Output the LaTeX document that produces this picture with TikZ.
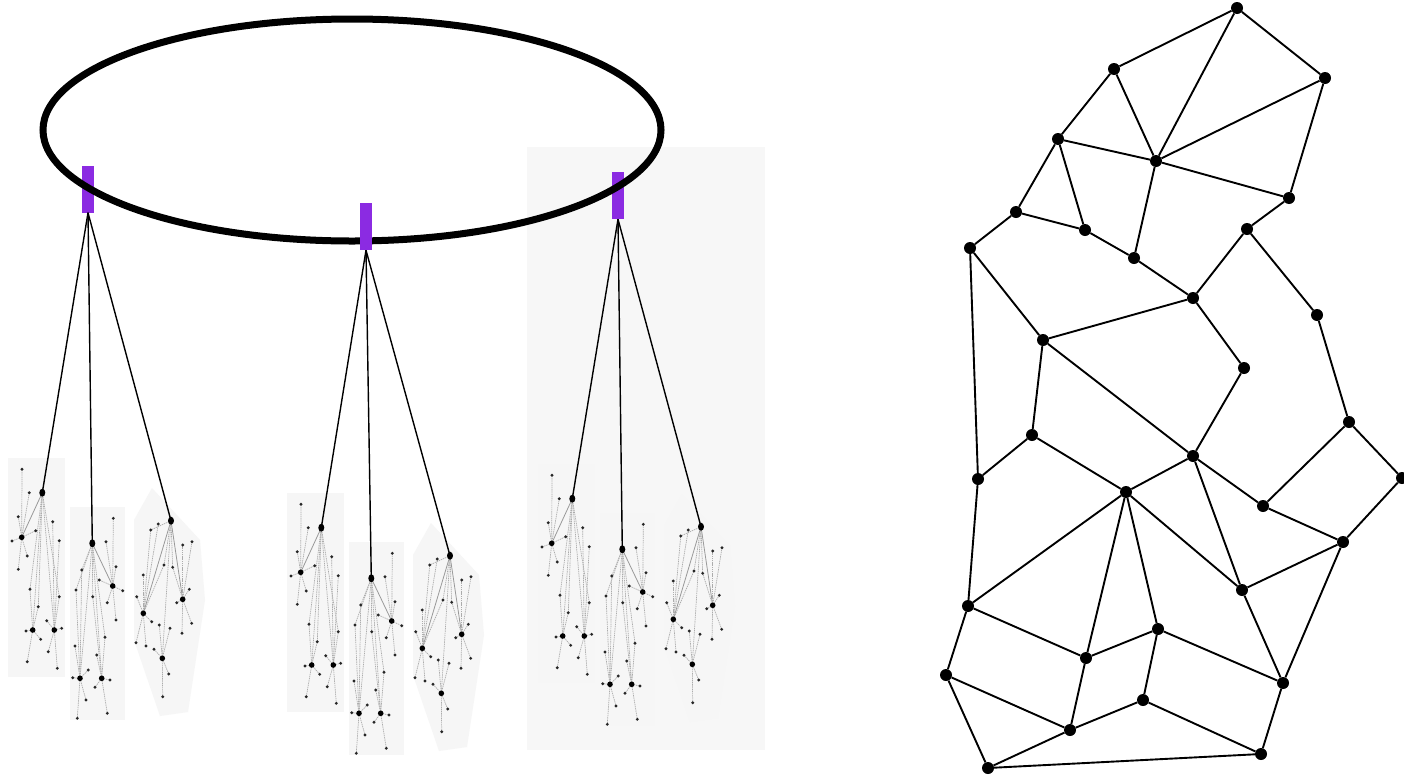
\documentclass[tikz,border=0pt]{standalone}
\usetikzlibrary{shapes.geometric}
\definecolor{ringviolet}{HTML}{8B2BE2}
\definecolor{panelgray}{HTML}{F6F6F6}
\definecolor{bigpanel}{HTML}{F7F7F7}
\tikzset{
  spoke/.style={draw=gray!65, line width=0.7pt, dash pattern=on 1.4pt off 0.8pt},
  stem/.style={draw=gray!80, line width=0.8pt},
  leaf/.style={fill=black!85},
  hang/.style={draw=black, line width=1.4pt},
  prect/.style={rectangle, fill=ringviolet, draw=none, minimum width=12pt, minimum height=47pt, inner sep=0pt},
  gnode/.style={circle, fill=black, draw=none, inner sep=0pt, minimum size=12pt},
  gedge/.style={draw=black, line width=1.9pt},
}
\newcommand{\spk}[2]{\foreach \p in {#2}{\draw[spoke] #1 -- \p; \fill[leaf] \p circle[radius=1.6pt];}}
\newcommand{\treecluster}{%
  % background panels
  \fill[panelgray] (8,458) rectangle (65,677);
  \fill[panelgray] (70,507) rectangle (125,720);
  \fill[panelgray] (152,488) -- (200,540) -- (205,600) -- (188,712) -- (160,716) -- (134,640) -- (134,520) -- cycle;
  % tree A
  \coordinate (ra) at (42.3,492.7);
  \draw[stem] (ra) -- (21.7,537.3);
  \foreach \q in {(32.7,630),(54.3,630),(38.3,606.7),(59.3,596.7),(30,589.3)}{\draw[spoke] (ra) -- \q;}
  \spk{(21.7,537.3)}{(22,469.3),(29.3,492.7),(18.3,516.7),(35.7,530.7),(12,541),(27.3,556),(18.3,569.3)}
  \spk{(32.7,630)}{(30,589.3),(38.3,606.7),(26,631),(40.7,639.3),(27.3,661.7)}
  \spk{(54.3,630)}{(52.7,521.7),(59.3,540.7),(59.3,596.7),(46.7,620.7),(61.7,628.3),(48.3,651.7),(57.3,668.3)}
  \fill (21.7,537.3) circle[radius=2.8pt];
  \fill (32.7,630) circle[radius=2.8pt];
  \fill (54.3,630) circle[radius=2.8pt];
  \fill (ra) ellipse[x radius=3pt, y radius=4pt];
  % tree B
  \coordinate (rb) at (92.3,543.3);
  \draw[stem] (rb) -- (112.7,586);
  \foreach \q in {(80,678.3),(101.7,678.3),(81.7,570),(76,590),(92.7,596.7),(105,637.3)}{\draw[spoke] (rb) -- \q;}
  \spk{(112.7,586)}{(113.3,518.3),(106,541.7),(116,566.7),(99.3,580),(122.7,590.7),(107.3,602.7),(116,620)}
  \spk{(80,678.3)}{(81.7,570),(76,590),(75,646),(72.7,677.7),(88.3,670),(86,700),(77.3,718.3)}
  \spk{(101.7,678.3)}{(92.7,596.7),(105,637.3),(96.7,655),(110,680),(95,687.3),(107.3,713.3)}
  \fill (112.7,586) circle[radius=2.8pt];
  \fill (80,678.3) circle[radius=2.8pt];
  \fill (101.7,678.3) circle[radius=2.8pt];
  \fill (rb) ellipse[x radius=3pt, y radius=4pt];
  % tree C
  \coordinate (rc) at (171,520.7);
  \draw[stem] (rc) -- (143.3,613.3);
  \draw[stem] (rc) -- (182.7,599.3);
  \foreach \q in {(162.3,658.3),(150.7,530),(164,565),(172.7,567.3)}{\draw[spoke] (rc) -- \q;}
  \spk{(143.3,613.3)}{(150.7,530),(158.3,524),(143.3,575),(136.7,596.7),(164,565),(151.7,621.7),(136,642.7),(146,646)}
  \spk{(182.7,599.3)}{(182.7,545),(192,541.7),(172.7,567.3),(189.3,589.3),(176.7,602.7),(191.7,623.3),(182,633.3)}
  \spk{(162.3,658.3)}{(159.3,625),(170,628.3),(154,649.3),(168.7,674),(162.7,696.7)}
  \fill (143.3,613.3) circle[radius=2.8pt];
  \fill (182.7,599.3) circle[radius=2.8pt];
  \fill (162.3,658.3) circle[radius=2.8pt];
  \fill (rc) ellipse[x radius=3pt, y radius=4pt];
}
\begin{document}
\begin{tikzpicture}[x=1pt,y=-1pt]
\useasboundingbox (0,0) rectangle (1404,777);
\fill[white] (0,0) rectangle (1404,777);
% big light panel behind right cluster
\fill[bigpanel] (527,147) rectangle (765,750);
% clusters
\begin{scope}[name prefix=L-]
  \treecluster
\end{scope}
\begin{scope}[shift={(279,35)}, name prefix=M-]
  \treecluster
\end{scope}
\begin{scope}[shift={(530,6)}, name prefix=R-]
  \treecluster
\end{scope}
% purple tabs and ring
\node[prect] (pl) at (88,189) {};
\node[prect] (pr) at (618,195.5) {};
\draw[line width=7pt] (352,130) ellipse[x radius=309pt, y radius=111pt];
\node[prect] (pm) at (366,226.5) {};
% hanging lines
\foreach \t in {ra,rb,rc}{\draw[hang] (pl.south) -- (L-\t);}
\foreach \t in {ra,rb,rc}{\draw[hang] (pm.south) -- (M-\t);}
\foreach \t in {ra,rb,rc}{\draw[hang] (pr.south) -- (R-\t);}
% right planar graph
\foreach \n/\x/\y in {n1/1237/8, n2/1325/78, n3/1114/69, n4/1058/139, n5/1156/161,
  n6/1289/198, n7/1016/212, n8/1085/230, n9/970/248, n10/1134/258, n11/1247/229,
  n12/1193/298, n13/1317/315, n14/1043/340, n15/1244/368,
  m1/1349/422, m2/1402/478, m3/1032/435, m4/1193/456, m5/978/479, m6/1126/492,
  m7/1263/506, m8/1343/542, m9/1242/590, m10/968/606, m11/1158/629, m12/1086/658,
  m13/1283/683, m14/946/675, m15/1143/700, m16/1070/730, m17/1261/754, m18/988/768}
  {\node[gnode] (\n) at (\x,\y) {};}
\foreach \a/\b in {n1/n3, n1/n5, n1/n2, n2/n5, n2/n6, n3/n4, n3/n5, n4/n5, n4/n7, n4/n8,
  n5/n10, n5/n6, n6/n11, n7/n8, n7/n9, n8/n10, n10/n12, n11/n12, n11/n13, n12/n14,
  n12/n15, n9/n14, n9/m5, n14/m3, n14/m4, n13/m1, n15/m4,
  m1/m2, m1/m7, m2/m8, m7/m8, m4/m6, m4/m7, m4/m9, m3/m5, m3/m6, m5/m10, m6/m10,
  m6/m12, m6/m11, m6/m9, m9/m8, m9/m13, m8/m13, m10/m12, m10/m14, m11/m12, m11/m15,
  m11/m13, m12/m16, m14/m16, m14/m18, m15/m16, m15/m17, m13/m17, m16/m18, m18/m17}
  {\draw[gedge] (\a) -- (\b);}
\end{tikzpicture}
\end{document}
